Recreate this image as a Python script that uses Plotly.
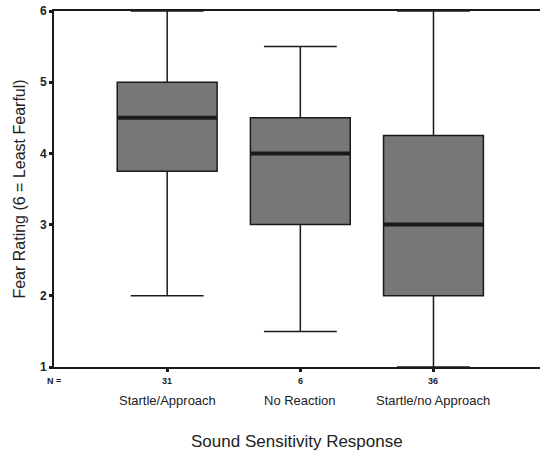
import plotly.graph_objects as go

categories = ["Startle/Approach", "No Reaction", "Startle/no Approach"]
n_counts = ["31", "6", "36"]
q1 = [3.75, 3.0, 2.0]
median = [4.5, 4.0, 3.0]
q3 = [5.0, 4.5, 4.25]
lower = [2.0, 1.5, 1.0]
upper = [6.0, 5.5, 6.0]
y_ticks = [1, 2, 3, 4, 5, 6]

xpos = list(range(len(categories)))
BOX_W = 0.75

fig = go.Figure()
fig.add_trace(go.Box(
    x=xpos, q1=q1, median=median, q3=q3, lowerfence=lower, upperfence=upper,
    width=BOX_W, whiskerwidth=0.73,
    fillcolor="#777777", line=dict(color="#1a1a1a", width=1.5),
    boxpoints=False, showlegend=False, hoverinfo="skip",
))

# thick median lines
for xi, m in zip(xpos, median):
    fig.add_shape(type="line", xref="x", yref="y",
                  x0=xi - BOX_W / 2, x1=xi + BOX_W / 2, y0=m, y1=m,
                  line=dict(color="#1a1a1a", width=4))

FONT = "Liberation Sans, Arial, sans-serif"

# N labels
fig.add_annotation(x=-0.85, y=0, xref="x", yref="paper", yshift=-7, yanchor="top",
                   text="<b>N =</b>", showarrow=False, font=dict(size=9, family=FONT, color="#222"),
                   xanchor="center")
for xi, n in zip(xpos, n_counts):
    fig.add_annotation(x=xi, y=0, xref="x", yref="paper", yshift=-7, yanchor="top",
                       text="<b>" + n + "</b>", showarrow=False,
                       font=dict(size=9, family=FONT, color="#222"))
for xi, c in zip(xpos, categories):
    fig.add_annotation(x=xi, y=0, xref="x", yref="paper", yshift=-33, yanchor="middle",
                       text=c, showarrow=False, font=dict(size=13, family=FONT, color="#222"))

fig.add_annotation(x=0.5, y=0, xref="paper", yref="paper", yshift=-74, yanchor="middle",
                   text="Sound Sensitivity Response", showarrow=False,
                   font=dict(size=17, family=FONT, color="#222"))

fig.update_layout(
    width=543, height=450,
    margin=dict(l=54, r=3, t=11, b=83),
    plot_bgcolor="white", paper_bgcolor="white",
    font=dict(family=FONT, color="#222"),
    xaxis=dict(range=[-0.85, 2.8], tickvals=xpos, ticktext=["", "", ""],
               showline=True, linecolor="#1a1a1a", linewidth=2, mirror=True,
               ticks="outside", ticklen=3, tickwidth=3, tickcolor="#1a1a1a",
               showgrid=False, zeroline=False),
    yaxis=dict(range=[1, 6], tickvals=y_ticks,
               ticktext=["<b>%d</b>" % v for v in y_ticks],
               showline=True, linecolor="#1a1a1a", linewidth=2,
               ticks="outside", ticklen=3, tickwidth=3, tickcolor="#1a1a1a",
               tickfont=dict(size=12, family=FONT, color="#222"),
               showgrid=False, zeroline=False,
               title=dict(text="Fear Rating (6 = Least Fearful)",
                          font=dict(size=16, family=FONT, color="#222"), standoff=10)),
)

fig.write_html("out.html")
